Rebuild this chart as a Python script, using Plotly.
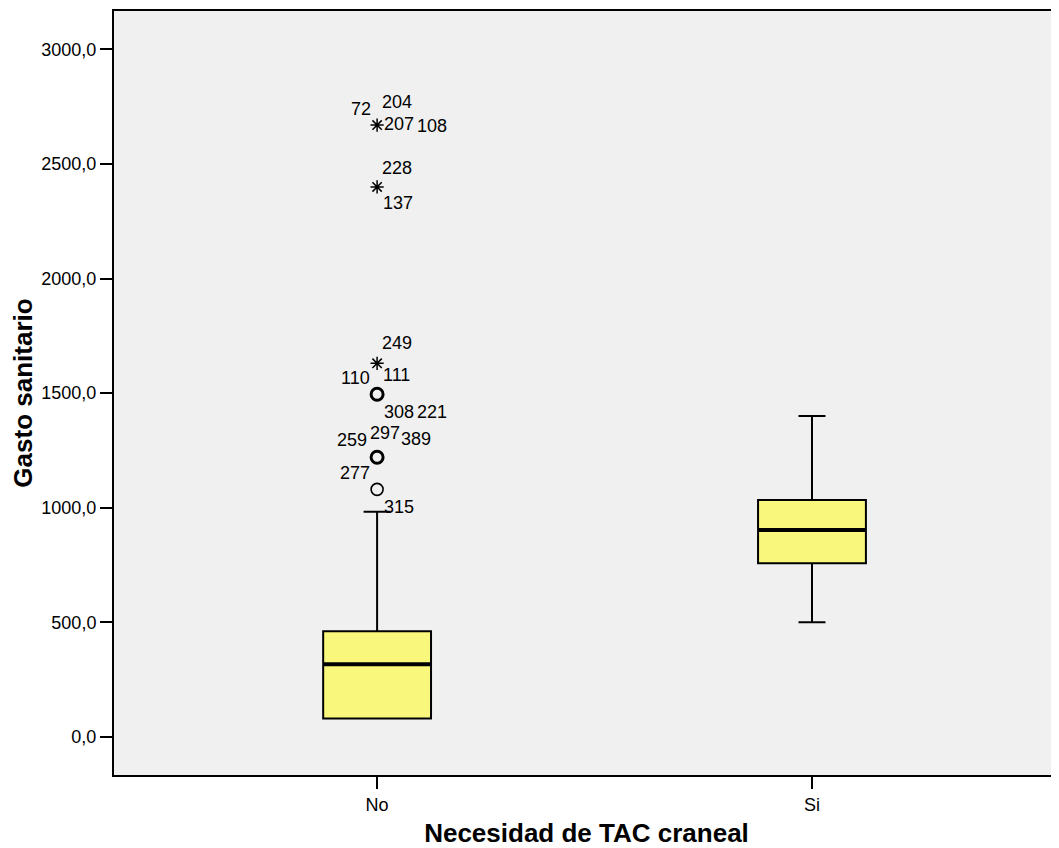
import plotly.graph_objects as go

# ---------------- data ----------------
categories = ["No", "Si"]
q1 = [80, 757]
median = [316, 902]
q3 = [461, 1033]
lower_whisker = [80, 500]
upper_whisker = [982, 1400]

# outliers of group "No" (circles) and extremes (asterisks)
outlier_values = [1495, 1220, 1080]
outlier_ids = [["110", "111", "308", "221"], ["259", "297", "389"], ["277", "315"]]
extreme_values = [2670, 2400, 1630]
extreme_ids = [["72", "204", "207", "108"], ["228", "137"], ["249"]]

y_tickvals = [0, 500, 1000, 1500, 2000, 2500, 3000]

# ---------------- styles / label offsets (pixels: dx right, dy up) ----------------
outlier_line_widths = [3, 3, 1.6]
outlier_label_offsets = [
    [(-22, 16), (19, 19), (22, -18), (55, -18)],
    [(-25, 17), (8, 24), (39, 18)],
    [(-22, 16), (22, -18)],
]
extreme_label_offsets = [
    [(-16, 16), (20, 23), (22, 1), (55, -1)],
    [(20, 19), (21, -16)],
    [(20, 20)],
]

FONT = "Liberation Sans, Arial, sans-serif"
BOX_FILL = "#FAF87C"
BOX_WIDTH = 0.248

fig = go.Figure()

for i, cat in enumerate(categories):
    fig.add_trace(go.Box(
        x=[i], q1=[q1[i]], median=[median[i]], q3=[q3[i]],
        lowerfence=[lower_whisker[i]], upperfence=[upper_whisker[i]],
        width=BOX_WIDTH, whiskerwidth=0.25,
        fillcolor=BOX_FILL, line=dict(color="black", width=2),
        boxpoints=False, showlegend=False, hoverinfo="skip", name=cat,
    ))
    # thicker median line
    fig.add_trace(go.Scatter(
        x=[i - BOX_WIDTH / 2, i + BOX_WIDTH / 2], y=[median[i], median[i]],
        mode="lines", line=dict(color="black", width=4),
        showlegend=False, hoverinfo="skip",
    ))

# outliers (circles)
fig.add_trace(go.Scatter(
    x=[0] * len(outlier_values), y=outlier_values, mode="markers",
    marker=dict(symbol="circle-open", size=12, color="black",
                line=dict(color="black", width=outlier_line_widths)),
    showlegend=False, hoverinfo="skip",
))
# extremes (asterisks)
fig.add_trace(go.Scatter(
    x=[0] * len(extreme_values), y=extreme_values, mode="markers",
    marker=dict(symbol="asterisk-open", size=11, color="black",
                line=dict(color="black", width=1.5)),
    showlegend=False, hoverinfo="skip",
))

# case labels
for vals, ids, offs in [(outlier_values, outlier_ids, outlier_label_offsets),
                        (extreme_values, extreme_ids, extreme_label_offsets)]:
    for v, idlist, offlist in zip(vals, ids, offs):
        for lab, (dx, dy) in zip(idlist, offlist):
            fig.add_annotation(x=0, y=v, text=lab, showarrow=False,
                               xshift=dx, yshift=dy,
                               font=dict(family=FONT, size=18, color="black"))

# page body has an 8px margin: figure is sized/margined to compensate
fig.update_layout(
    width=1051, height=840,
    margin=dict(l=106, r=0, t=3, b=73),
    paper_bgcolor="white", plot_bgcolor="#F0F0F0",
    separators=",.",
    font=dict(family=FONT, color="black"),
    showlegend=False,
)
fig.update_xaxes(
    range=[-0.605, 1.568], tickvals=[0, 1], ticktext=categories,
    showgrid=False, zeroline=False,
    showline=True, linecolor="black", linewidth=2, mirror=True,
    ticks="outside", ticklen=12, tickwidth=2, tickcolor="black",
    tickfont=dict(family=FONT, size=18, color="black"),
    title=dict(text="<b>Necesidad de TAC craneal</b>", standoff=11,
               font=dict(family=FONT, size=26, color="black")),
)
fig.update_yaxes(
    range=[-167, 3168], tickvals=y_tickvals, tickformat=".1f",
    showgrid=False, zeroline=False,
    showline=True, linecolor="black", linewidth=2,
    ticks="outside", ticklen=12, tickwidth=2, tickcolor="black",
    tickfont=dict(family=FONT, size=18, color="black"),
    title=dict(text="<b>Gasto sanitario</b>", standoff=8,
               font=dict(family=FONT, size=26, color="black")),
)

fig.write_html("out.html")
